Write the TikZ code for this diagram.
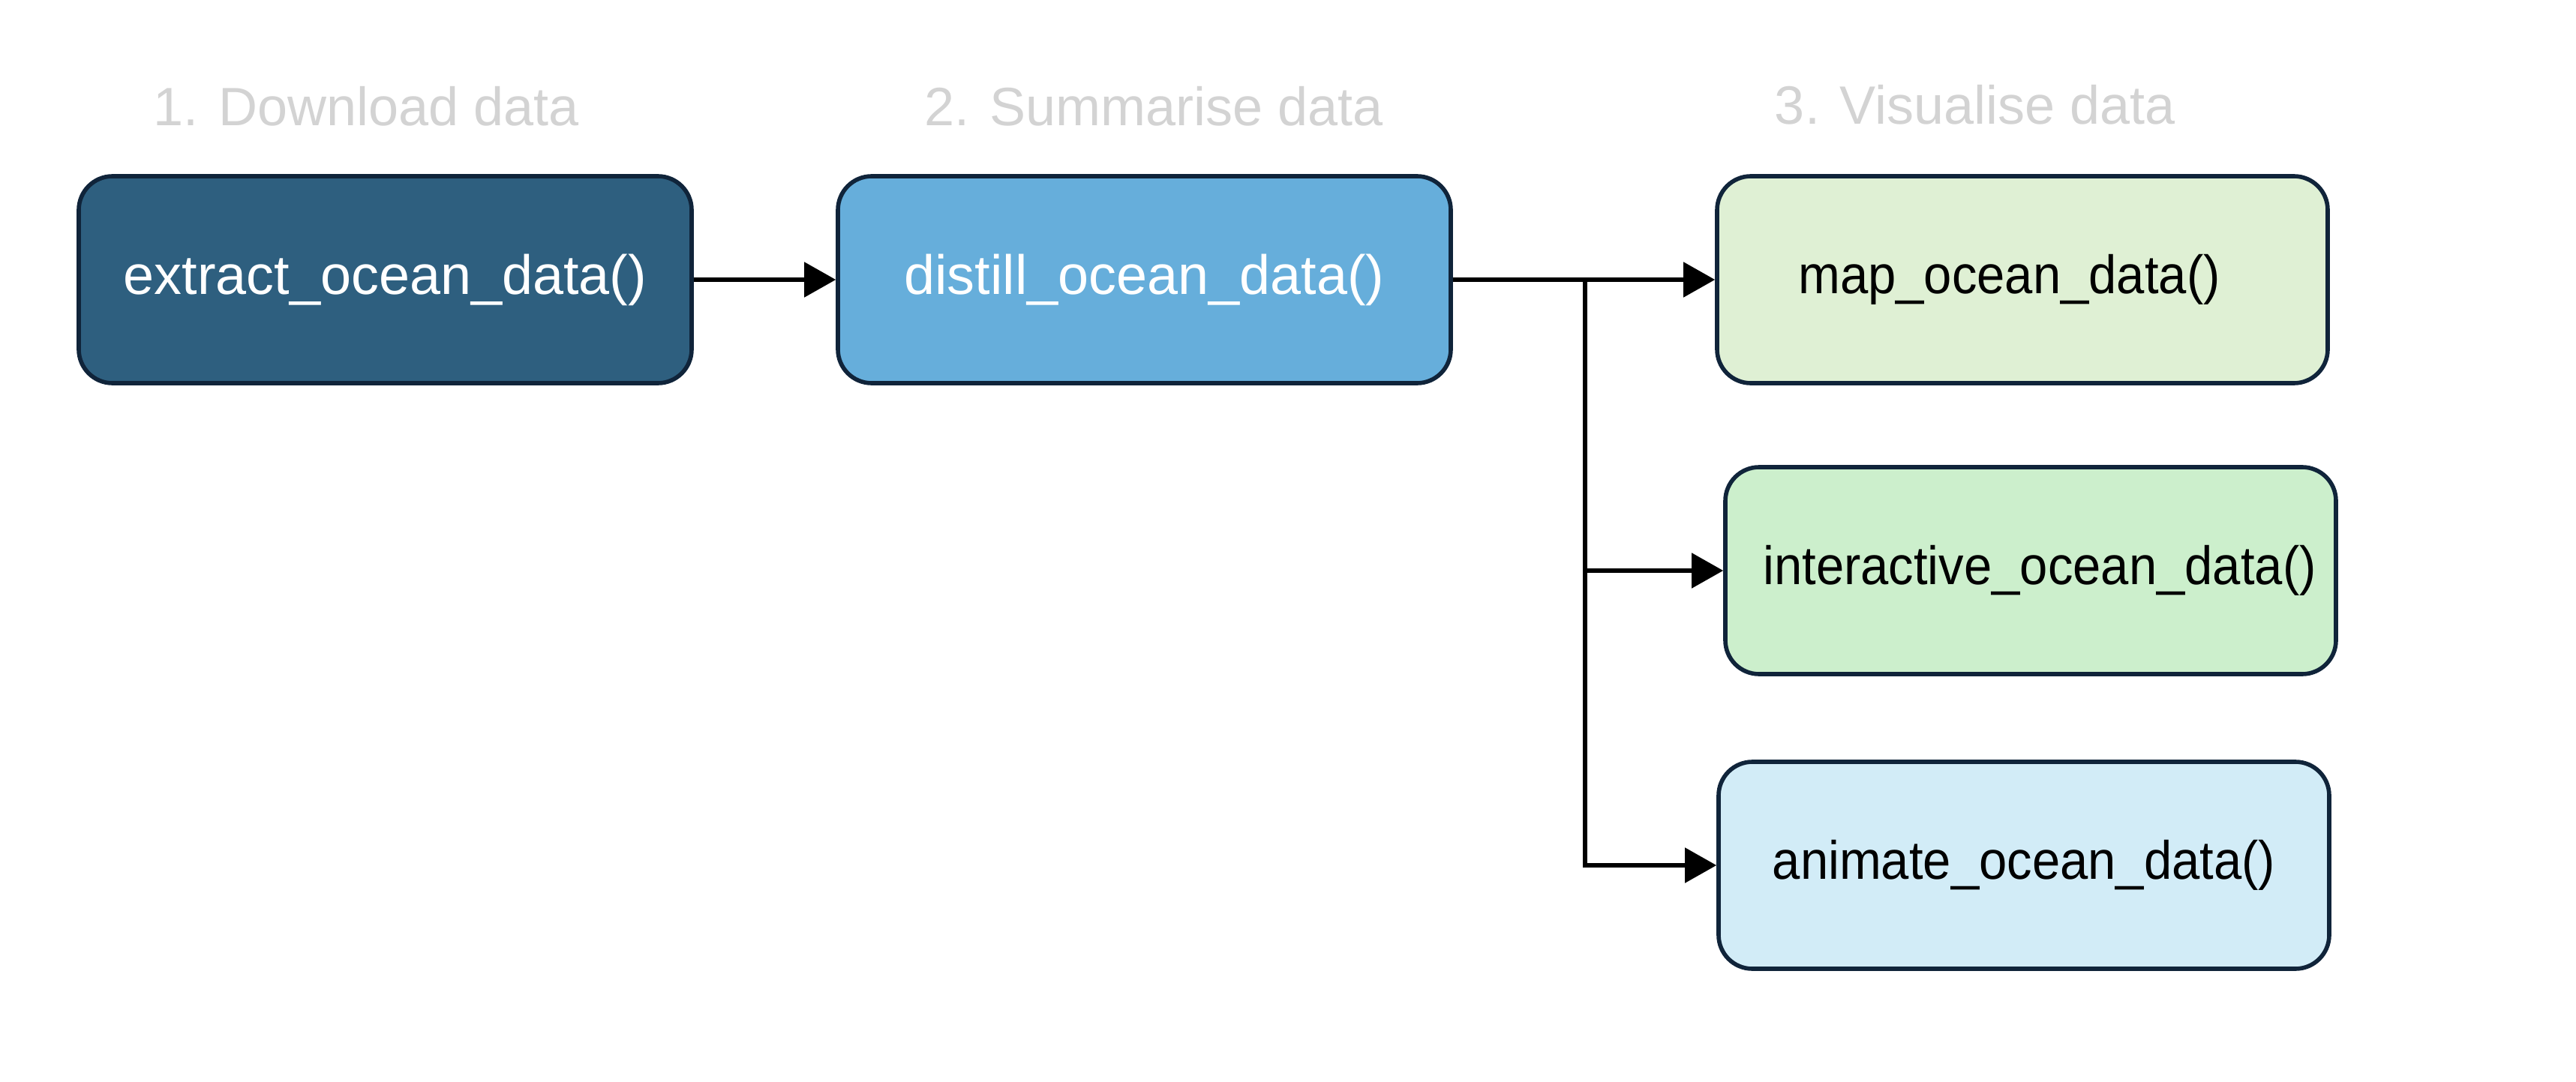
\documentclass[tikz,border=0pt]{standalone}
\usepackage{fontspec}
\setmainfont{Liberation Sans}
\newfontfamily\boxfont[FakeStretch=0.93]{Liberation Sans}
\usetikzlibrary{arrows.meta}

\definecolor{darkbox}{HTML}{2E5F7F}
\definecolor{midbox}{HTML}{66AEDB}
\definecolor{mapbox}{HTML}{DFF0D4}
\definecolor{interbox}{HTML}{CCEFCC}
\definecolor{animbox}{HTML}{D2ECF7}
\definecolor{edgeline}{HTML}{10243A}
\definecolor{steptext}{HTML}{D3D3D3}

\begin{document}
\begin{tikzpicture}[
		fbox/.style={rounded corners=0.45cm, draw=edgeline, line width=1.6pt,
			minimum width=8.17cm, minimum height=2.76cm, inner sep=0pt,
			font=\fontsize{21}{25}\selectfont},
		outbox/.style={fbox, minimum width=8.14cm, font=\boxfont\fontsize{20.5}{25}\selectfont},
		steplabel/.style={text=steptext, font=\fontsize{20.5}{25}\selectfont},
		arr/.style={-{Triangle[length=4.2mm, width=4.6mm]}, line width=1.5pt}
	]
		\useasboundingbox (0, 0) rectangle (34.34, 14.42);
		\def\yr{10.69}
		\def\xs{21.13}
		\node[steplabel] (t1) at (4.88, 13.0) {1. Download data};
		\node[steplabel] (t2) at (15.38, 13.0) {2. Summarise data};
		\node[steplabel] (t3) at (26.33, 13.02) {3. Visualise data};
		\node[fbox, fill=darkbox, text=white] (extract) at (5.135, \yr) {extract\_ocean\_data()};
		\node[fbox, fill=midbox, text=white] (distill) at (15.255, \yr) {distill\_ocean\_data()};
		\node[outbox, fill=mapbox] (map) at (26.96, \yr) {\hspace*{-0.35cm}map\_ocean\_data()};
		\node[outbox, fill=interbox] (inter) at (27.07, 6.81) {\hspace*{0.24cm}interactive\_ocean\_data()};
		\node[outbox, fill=animbox] (anim) at (26.98, 2.88) {animate\_ocean\_data()};
		\coordinate (split) at (\xs, \yr);
		\draw[arr] (extract) -- (distill);
		\draw[arr] (distill.east) -- (map.west);
		\draw[arr] (split) |- (inter.west);
		\draw[arr] (split) |- (anim.west);
	\end{tikzpicture}
\end{document}
